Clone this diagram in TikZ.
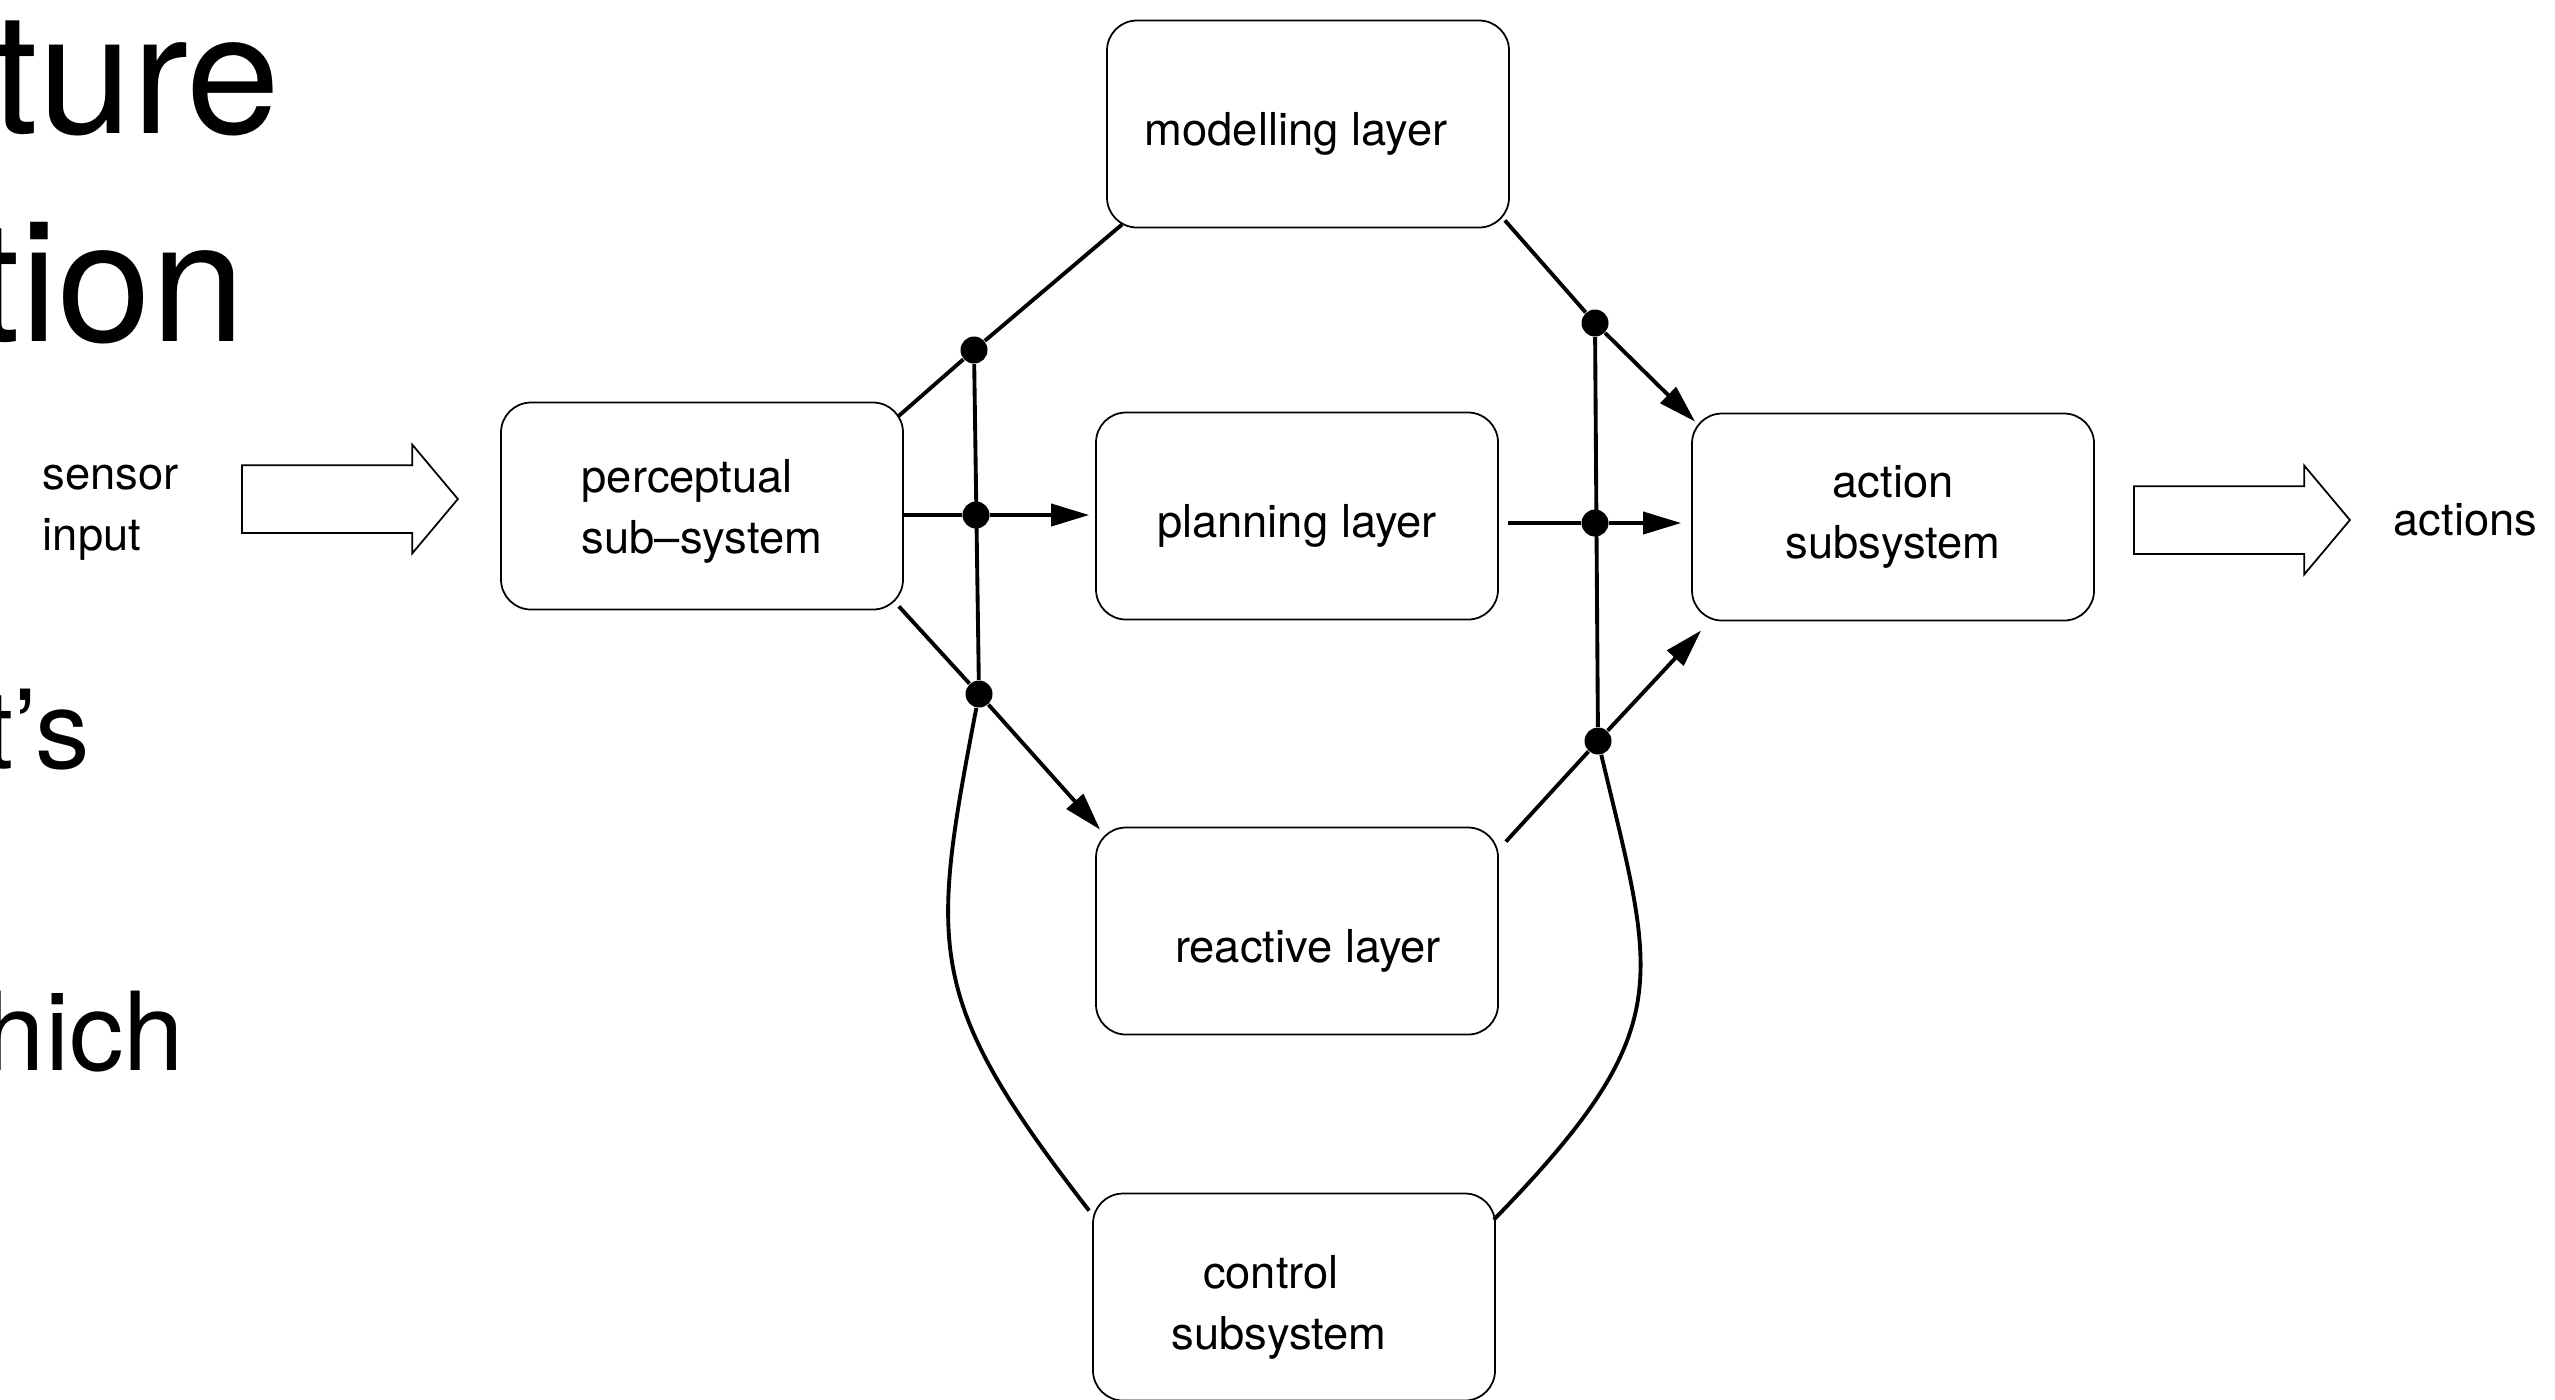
\documentclass[tikz,border=0pt]{standalone}
\usepackage{fontspec}
\setmainfont{TeX Gyre Heros}
\usepackage{tikz}
\usetikzlibrary{shapes,arrows.meta,positioning,calc}

\begin{document}
\begin{tikzpicture}[
    unit/.style={rectangle, draw, line width=0.5pt, rounded corners=0.3cm, minimum width=4.02cm, minimum height=2.07cm, align=center, font=\fontsize{12.9}{17.4}\selectfont},
    oneline/.style={text height=0.52cm, text depth=0.10cm},
    twoline/.style={text height=1.04cm, text depth=0.095cm},
    junc/.style={circle, fill, inner sep=0pt, minimum size=0.27cm},
    link/.style={line width=1.1pt},
    flow/.style={line width=1.1pt, -{Triangle[length=0.38cm, width=0.22cm]}},
    hollow/.style={single arrow, draw, line width=0.5pt, anchor=tail, minimum height=2.16cm, inner xsep=0pt, inner ysep=0.33cm, single arrow head extend=0.205cm, single arrow tip angle=100},
    lbl/.style={inner sep=0pt, font=\fontsize{12.9}{17.4}\selectfont},
    title/.style={inner sep=0pt, font=\fontsize{48}{48}\selectfont, anchor=base east},
    body/.style={inner sep=0pt, font=\fontsize{31}{31}\selectfont, anchor=base east}]

    \useasboundingbox (0,0) rectangle (25.55,-13.99);

    % Slide text behind the figure
    \node[title] (w1) at (2.81,-1.33) {ture};
    \node[title] (w2) at (2.46,-3.41) {tion};
    \node[body] (w3) at (0.91,-7.68) {t's};
    \node[body] (w4) at (1.85,-10.70) {hich};

    % Subsystems and layers
    \node[unit, twoline, align=left] (perc) at (7.02,-5.06) {perceptual\\sub--system};
    \node[unit, oneline] (model) at (13.08,-1.24) {modelling layer\hspace*{0.24cm}};
    \node[unit, oneline] (plan) at (12.97,-5.16) {planning layer};
    \node[unit, oneline, text height=0.72cm] (react) at (12.97,-9.31) {\hspace*{0.22cm}reactive layer};
    \node[unit] (act) at (18.93,-5.17) {action\\subsystem};
    \node[unit, twoline, text height=1.14cm] (ctrl) at (12.94,-12.97) {control\hspace*{0.46cm}\\subsystem\hspace*{0.30cm}};

    % Input and output
    \node[lbl, align=left, anchor=west] (sens) at (0.42,-5.13) {sensor\\input};
    \node[hollow] (inarr) at (2.41,-4.99) {};
    \node[hollow] (outarr) at (21.33,-5.20) {};
    \node[lbl, anchor=base west] (acts) at (23.93,-5.35) {actions};

    % Junctions
    \node[junc] (jl1) at (9.74,-3.50) {};
    \node[junc] (jl2) at (9.76,-5.15) {};
    \node[junc] (jl3) at (9.79,-6.94) {};
    \node[junc] (jr1) at (15.95,-3.23) {};
    \node[junc] (jr2) at (15.95,-5.23) {};
    \node[junc] (jr3) at (15.98,-7.41) {};

    % Perceptual side
    \draw[link] ([shift={(-0.06,-0.15)}]perc.north east) -- (jl1) -- ([shift={(0.16,0.04)}]model.south west);
    \draw[link] (perc.east |- jl2) -- (jl2);
    \draw[flow, shorten >=0.06cm] (jl2) -- (plan.west |- jl2);
    \draw[link] ([shift={(-0.05,0.04)}]perc.south east) -- (jl3);
    \draw[flow] (jl3) -- ([shift={(0.05,-0.03)}]react.north west);
    \draw[link] (jl1) -- (jl3);

    % Action side
    \draw[link] ([shift={(-0.05,0.08)}]model.south east) -- (jr1);
    \draw[flow] (jr1) -- ([shift={(0.04,-0.09)}]act.north west);
    \draw[link, shorten <=0.09cm] (plan.east |- jr2) -- (jr2);
    \draw[flow, shorten >=0.1cm] (jr2) -- (act.west |- jr2);
    \draw[link] ([shift={(0.07,-0.15)}]react.north east) -- (jr3);
    \draw[flow] (jr3) -- ([shift={(0.10,-0.09)}]act.south west);
    \draw[link] (jr1) -- (jr3);

    % Control loops
    \draw[link] (jl3) .. controls +(-0.49,-2.56) and +(-1.65,2.13) .. ([shift={(-0.03,-0.18)}]ctrl.north west);
    \draw[link] (jr3) .. controls +(0.57,-2.40) and +(1.87,1.92) .. ([shift={(-0.02,-0.27)}]ctrl.north east);

\end{tikzpicture}
\end{document}
